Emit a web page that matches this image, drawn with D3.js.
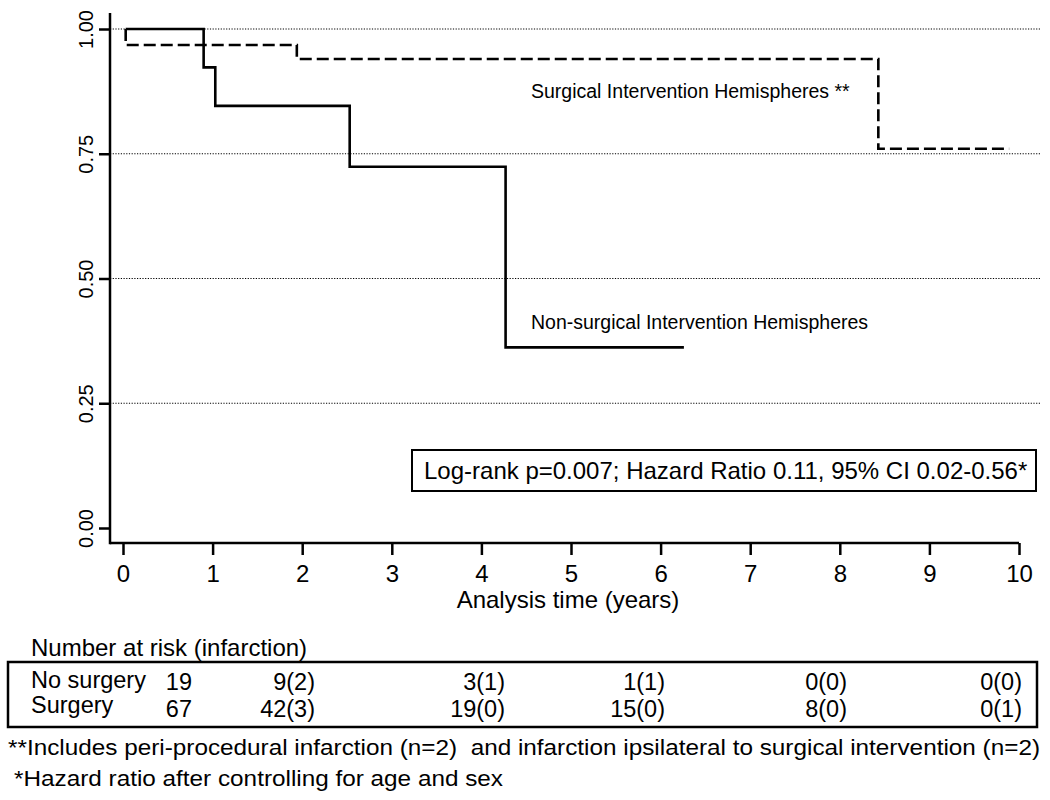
<!DOCTYPE html>
<html>
<head>
<meta charset="utf-8">
<script src="https://cdn.jsdelivr.net/npm/d3@7"></script>
<style>
  body { margin: 0; background: #fff; }
  svg text { font-family: "Liberation Sans", Arial, Helvetica, sans-serif; fill: #000; }
</style>
</head>
<body>
<div id="chart"></div>
<script>
// tick values
const xTickValues = [0, 1, 2, 3, 4, 5, 6, 7, 8, 9, 10];
const yTickValues = [0, 0.25, 0.5, 0.75, 1];
const gridValues = [0.25, 0.5, 0.75, 1];

// Kaplan-Meier steps
const nonSurgTimes = [0.03, 0.90, 1.03, 2.53, 4.27, 6.26];
const nonSurgSurv = [1.0, 0.923, 0.846, 0.724, 0.362, 0.362];
const surgTimes = [0.03, 0.03, 1.94, 8.43, 9.89];
const surgSurv = [1.0, 0.968, 0.940, 0.760, 0.760];

// number at risk table
const riskRowLabels = ["No surgery", "Surgery"];
const noSurgeryAtRisk = ["19", "9(2)", "3(1)", "1(1)", "0(0)", "0(0)"];
const surgeryAtRisk = ["67", "42(3)", "19(0)", "15(0)", "8(0)", "0(1)"];

const width = 1050, height = 800;
const axisX = 110, axisY = 543, axisTop = 13;
const tableColRight = [192, 315, 505, 665, 847, 1022];

const svg = d3.select("#chart").append("svg")
  .attr("width", width)
  .attr("height", height);

const x = d3.scaleLinear().domain([0, 10]).range([123, 1019]);
const y = d3.scaleLinear().domain([0, 1]).range([528, 29]);

// dotted reference lines
svg.selectAll(".grid")
  .data(gridValues)
  .enter()
  .append("line")
  .attr("x1", axisX).attr("x2", 1040)
  .attr("y1", d => y(d)).attr("y2", d => y(d))
  .attr("stroke", "#000")
  .attr("stroke-width", 1.2)
  .attr("stroke-dasharray", "1.2,1.5");

// x axis
const gx = svg.append("g")
  .attr("transform", `translate(0,${axisY})`)
  .call(d3.axisBottom(x).tickValues(xTickValues).tickSize(12).tickPadding(10).tickFormat(d3.format("d")));
gx.select(".domain").remove();
gx.selectAll(".tick line").attr("stroke", "#000").attr("stroke-width", 2.5);
gx.selectAll(".tick text").style("font-size", "24px");
svg.append("line")
  .attr("x1", axisX).attr("x2", x(10))
  .attr("y1", axisY).attr("y2", axisY)
  .attr("stroke", "#000").attr("stroke-width", 2.5);

// y axis
const gy = svg.append("g")
  .attr("transform", `translate(${axisX},0)`)
  .call(d3.axisLeft(y).tickValues(yTickValues).tickSize(11).tickFormat(d3.format(".2f")));
gy.select(".domain").remove();
gy.selectAll(".tick line").attr("stroke", "#000").attr("stroke-width", 2.5);
gy.selectAll(".tick text")
  .attr("x", 0)
  .attr("y", -17)
  .attr("dy", 0)
  .attr("transform", "rotate(-90)")
  .attr("text-anchor", "middle")
  .style("font-size", "20px");
svg.append("line")
  .attr("x1", axisX).attr("x2", axisX)
  .attr("y1", axisTop).attr("y2", axisY + 1.25)
  .attr("stroke", "#000").attr("stroke-width", 2.5);

// curves
const line = d3.line()
  .x(d => x(d.t))
  .y(d => y(d.s))
  .curve(d3.curveStepAfter);

const nonSurg = nonSurgTimes.map((t, i) => ({ t: t, s: nonSurgSurv[i] }));
const surg = surgTimes.map((t, i) => ({ t: t, s: surgSurv[i] }));

svg.append("path")
  .attr("d", line(surg))
  .attr("fill", "none")
  .attr("stroke", "#000")
  .attr("stroke-width", 2.6)
  .attr("stroke-dasharray", "12,5");

svg.append("path")
  .attr("d", line(nonSurg))
  .attr("fill", "none")
  .attr("stroke", "#000")
  .attr("stroke-width", 2.6);

// curve labels
svg.append("text")
  .attr("x", 531).attr("y", 98)
  .style("font-size", "19.5px")
  .text("Surgical Intervention Hemispheres **");
svg.append("text")
  .attr("x", 531).attr("y", 329)
  .style("font-size", "19.5px")
  .text("Non-surgical Intervention Hemispheres");

// log-rank box
svg.append("rect")
  .attr("x", 412).attr("y", 450)
  .attr("width", 624).attr("height", 41)
  .attr("fill", "#fff")
  .attr("stroke", "#000").attr("stroke-width", 2);
svg.append("text")
  .attr("x", 424).attr("y", 479)
  .style("font-size", "24px")
  .text("Log-rank p=0.007; Hazard Ratio 0.11, 95% CI 0.02-0.56*");

// axis title
svg.append("text")
  .attr("x", 568).attr("y", 608)
  .attr("text-anchor", "middle")
  .style("font-size", "24px")
  .text("Analysis time (years)");

// number at risk table
svg.append("text")
  .attr("x", 31).attr("y", 656)
  .style("font-size", "24px")
  .text("Number at risk (infarction)");
svg.append("rect")
  .attr("x", 8).attr("y", 662)
  .attr("width", 1029).attr("height", 65)
  .attr("fill", "none")
  .attr("stroke", "#000").attr("stroke-width", 2.5);

const rows = [noSurgeryAtRisk, surgeryAtRisk];
const labelBase = [688, 713];
const valueBase = [690, 717];
rows.forEach((vals, r) => {
  svg.append("text")
    .attr("x", 31).attr("y", labelBase[r])
    .style("font-size", "23.5px")
    .text(riskRowLabels[r]);
  svg.selectAll(".cell" + r)
    .data(vals)
    .enter()
    .append("text")
    .attr("x", (d, i) => tableColRight[i])
    .attr("y", valueBase[r])
    .attr("text-anchor", "end")
    .style("font-size", "23.5px")
    .text(d => d);
});

// footnotes
svg.append("text")
  .attr("x", 8).attr("y", 755)
  .attr("textLength", 1032)
  .attr("lengthAdjust", "spacingAndGlyphs")
  .style("font-size", "22.5px")
  .style("white-space", "pre")
  .text("**Includes peri-procedural infarction (n=2)  and infarction ipsilateral to surgical intervention (n=2)");
svg.append("text")
  .attr("x", 14).attr("y", 786)
  .attr("textLength", 489)
  .attr("lengthAdjust", "spacingAndGlyphs")
  .style("font-size", "22.5px")
  .text("*Hazard ratio after controlling for age and sex");
</script>
</body>
</html>
